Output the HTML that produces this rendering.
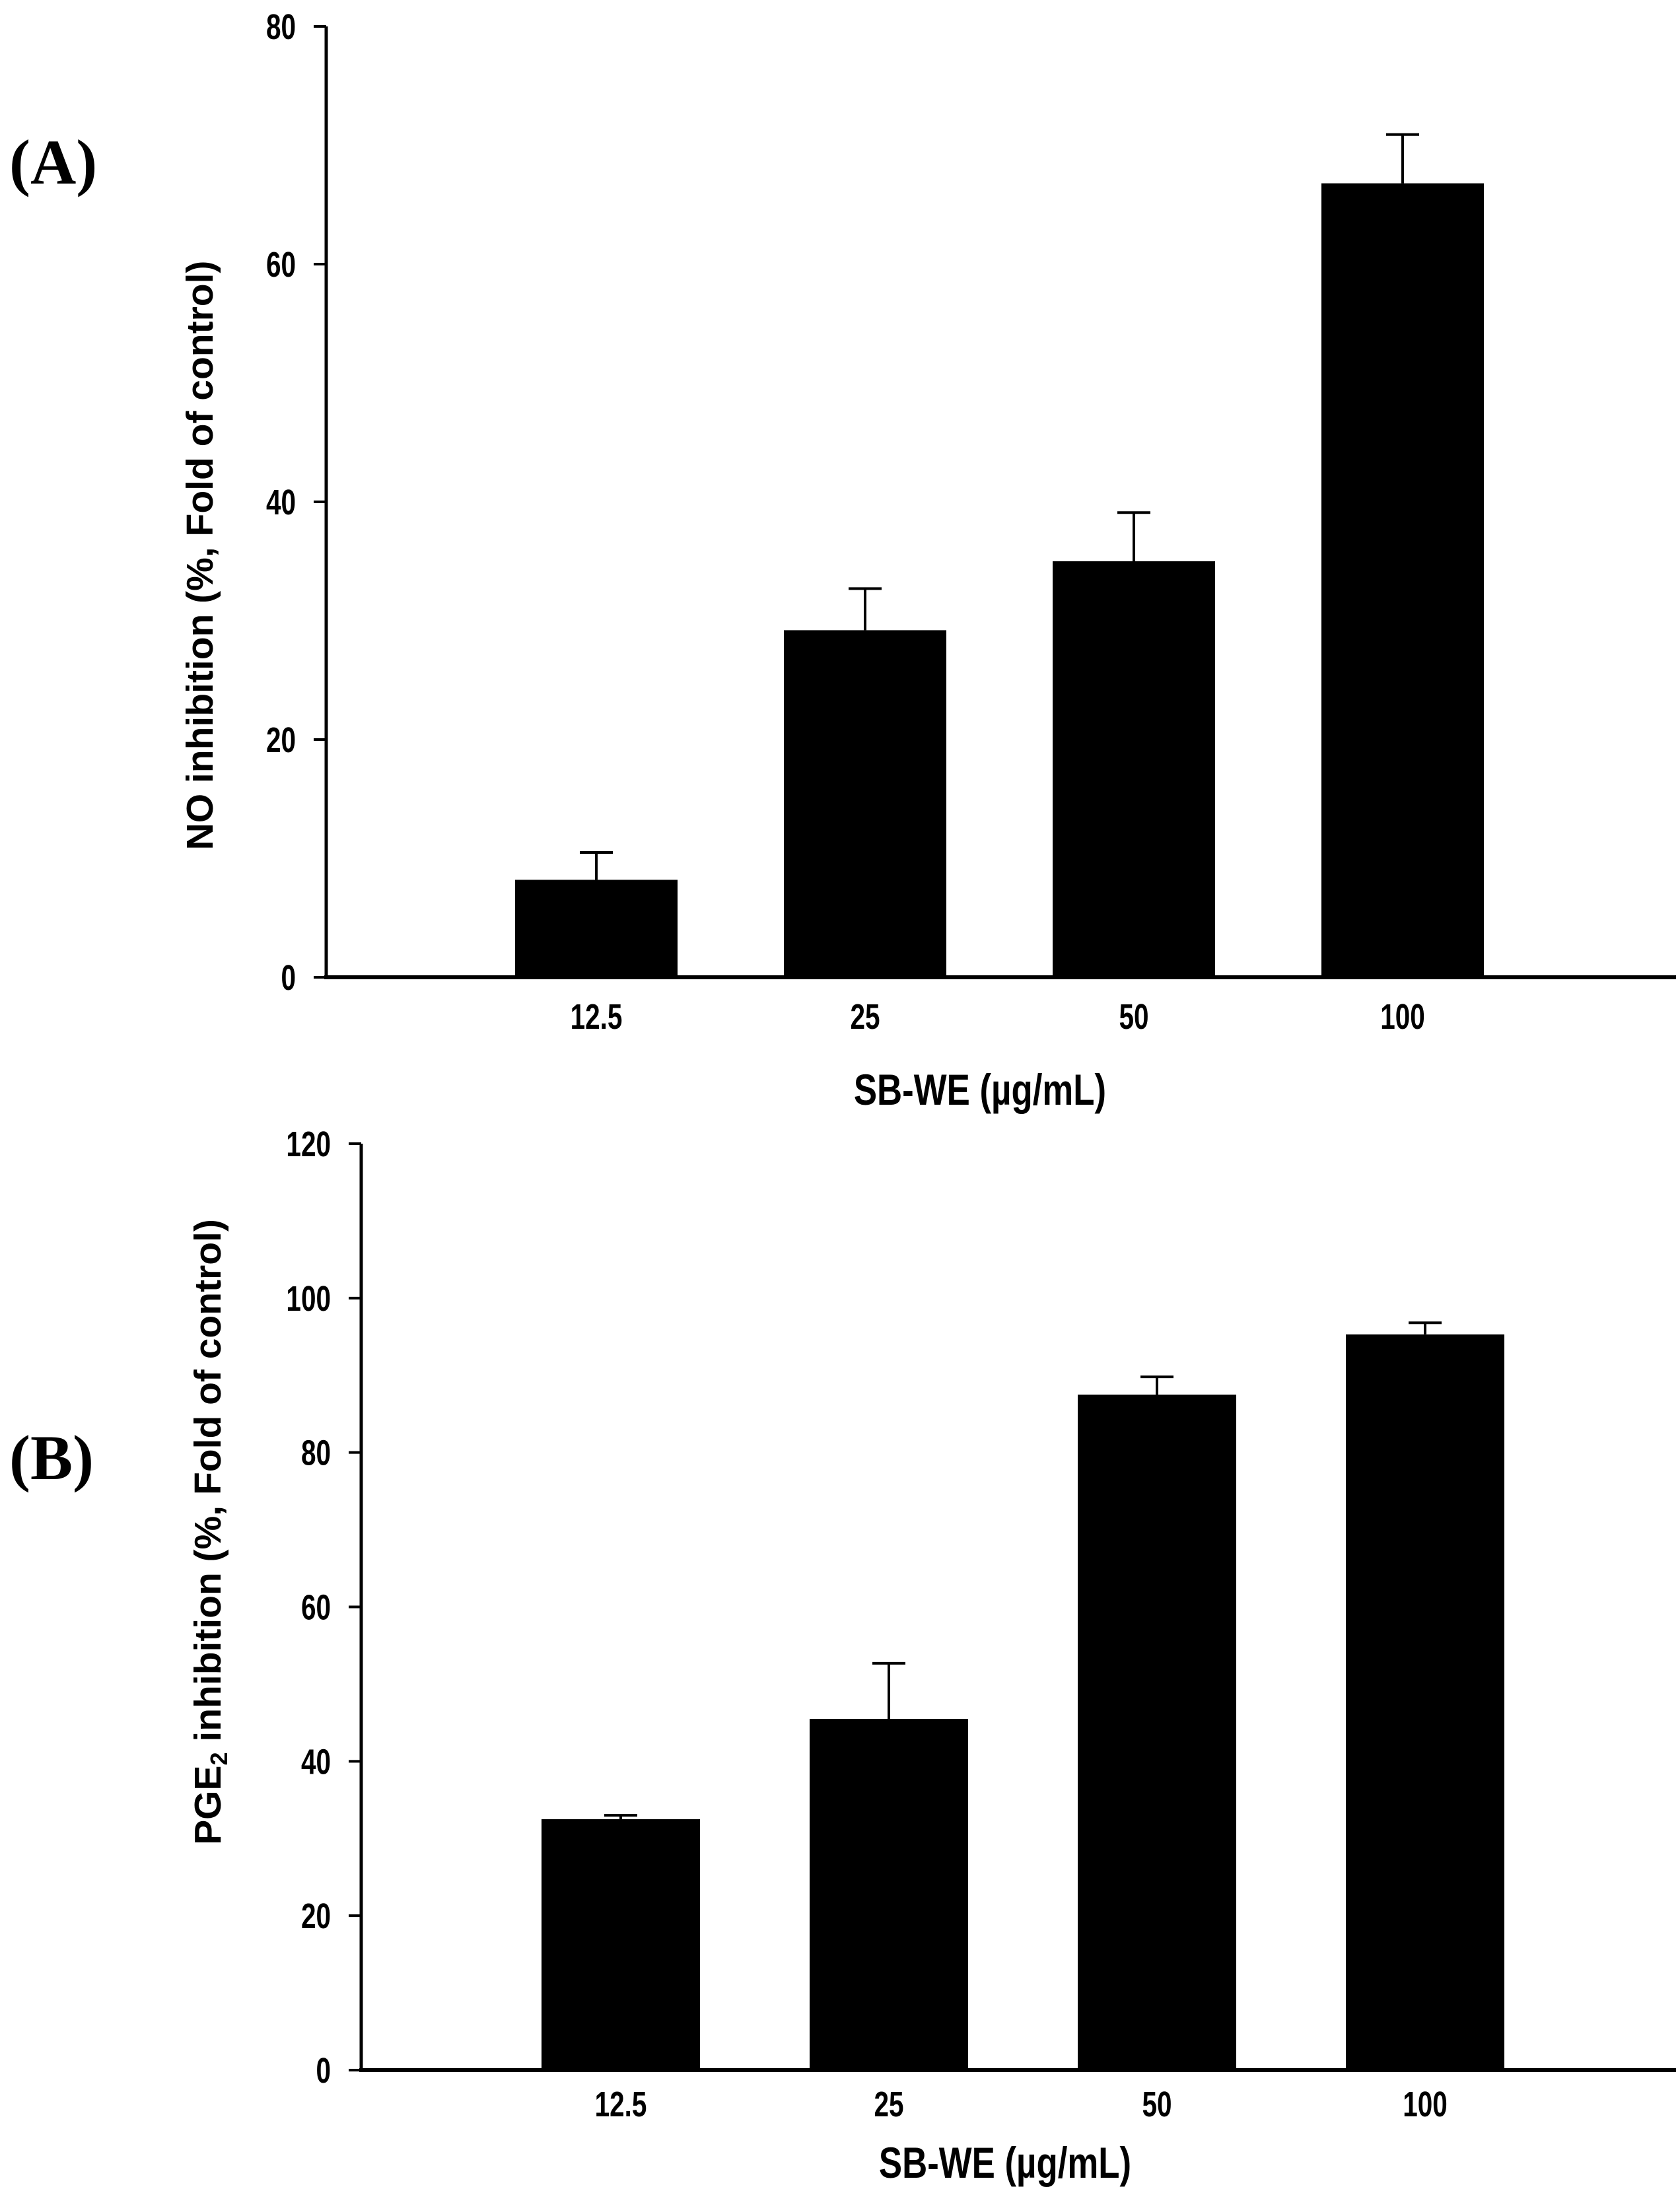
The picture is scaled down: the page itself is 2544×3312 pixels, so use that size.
<!DOCTYPE html>
<html><head><meta charset="utf-8"><style>
html,body{margin:0;padding:0;background:#fff}
svg{display:block}
</style></head><body>
<svg id="c" width="2544" height="3312" xmlns="http://www.w3.org/2000/svg"></svg>
<script>
const categories = ["12.5","25","50","100"];
const noValues = [8.2, 29.2, 35.0, 66.8];
const noErrTop = [10.5, 32.7, 39.1, 70.9];
const noTicks = [0,20,40,60,80];
const pgeValues = [32.5, 45.5, 87.5, 95.3];
const pgeErrTop = [33.0, 52.7, 89.8, 96.8];
const pgeTicks = [0,20,40,60,80,100,120];

const NS = "http://www.w3.org/2000/svg";
const svg = document.getElementById('c');
function el(tag, attrs, parent){
  const e = document.createElementNS(NS, tag);
  for (const k in attrs) e.setAttribute(k, attrs[k]);
  (parent||svg).appendChild(e);
  return e;
}
function drawPanel(cfg){
  const g = el('g', {});
  
  
  const yMax = cfg.ticks[cfg.ticks.length-1];
  const y = v => cfg.y0 - (v / yMax) * (cfg.y0 - cfg.yTop);
  const x = i => cfg.barX0 + i * cfg.step;
  const ya = el('line', {x1:cfg.ax, y1:cfg.yTop, x2:cfg.ax, y2:cfg.y0, stroke:'#000','stroke-width':5}, g);
  
  
  const xa = el('line', {x1:cfg.ax-3, y1:cfg.y0, x2:2538, y2:cfg.y0, stroke:'#000','stroke-width':6}, g);
  
  
  cfg.ticks.forEach(t => {
    el('line', {x1:cfg.ax-19, y1:y(t), x2:cfg.ax, y2:y(t), stroke:'#000','stroke-width':4}, g);
    const tx = cfg.ax-46;
    const tl = el('text', {x:tx, y:y(t)+19, 'text-anchor':'end','font-family':'Liberation Sans, sans-serif','font-weight':'bold','font-size':54, transform:`translate(${tx},0) scale(0.75,1) translate(${-tx},0)`}, g);
    tl.textContent = t;
    
    
  });
  cfg.values.forEach((v, i) => {
    const bx = x(i);
    const r = el('rect', {x:bx, y:y(v), width:cfg.bw, height:cfg.y0-y(v), fill:'#000'}, g);
    
    
    const cx = bx + cfg.bw/2;
    const e1 = el('line', {x1:cx, y1:y(v), x2:cx, y2:y(cfg.err[i]), stroke:'#000','stroke-width':4}, g);
    
    
    el('line', {x1:cx-25, y1:y(cfg.err[i]), x2:cx+25, y2:y(cfg.err[i]), stroke:'#000','stroke-width':4}, g);
    const lbl = el('text', {x:cx, y:cfg.labelY, 'text-anchor':'middle','font-family':'Liberation Sans, sans-serif','font-weight':'bold','font-size':54, transform:`translate(${cx},0) scale(0.75,1) translate(${-cx},0)`}, g);
    lbl.textContent = categories[i];
    
    
  });
  const xt = el('text', {x:cfg.xtX, y:cfg.xtY, 'text-anchor':'middle','font-family':'Liberation Sans, sans-serif','font-weight':'bold','font-size':66, transform:`translate(${cfg.xtX},0) scale(0.8,1) translate(${-cfg.xtX},0)`}, g);
  xt.textContent = 'SB-WE (µg/mL)';
  
  
  const yt = el('text', {x:0, y:0, 'text-anchor':'middle','font-family':'Liberation Sans, sans-serif','font-weight':'bold','font-size':57, transform:`translate(${cfg.ytX},${cfg.ytY}) rotate(-90)`}, g);
  yt.innerHTML = cfg.ytitle;
  
  
  const pl = el('text', {x:14, y:cfg.plY, 'font-family':'Liberation Serif, serif','font-weight':'bold','font-size':96}, g);
  pl.textContent = cfg.panel;
  
  
}
drawPanel({name:'chart-no-inhibition', ax:494, yTop:40, y0:1480, ticks:noTicks, values:noValues, err:noErrTop,
  barX0:780, step:407, bw:246, labelY:1558, xtX:1484, xtY:1673, ytX:322, ytY:841,
  ytitle:'NO inhibition (%, Fold of control)', panel:'(A)', plY:278});
drawPanel({name:'chart-pge2-inhibition', ax:547, yTop:1732, y0:3135, ticks:pgeTicks, values:pgeValues, err:pgeErrTop,
  barX0:820, step:406, bw:240, labelY:3205, xtX:1522, xtY:3298, ytX:334, ytY:2320,
  ytitle:'PGE<tspan font-size="36" dy="10">2</tspan><tspan dy="-10"> inhibition (%, Fold of control)</tspan>', panel:'(B)', plY:2240});
</script>
</body></html>
